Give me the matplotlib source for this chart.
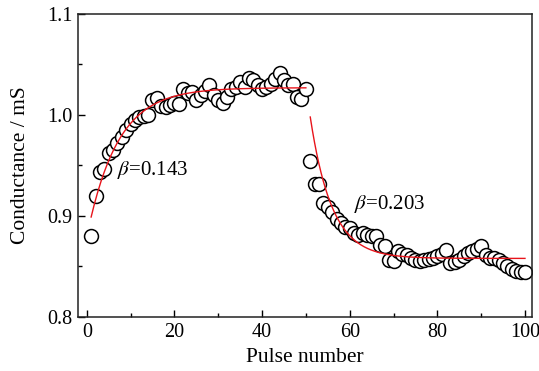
import numpy as np
import matplotlib
matplotlib.use("Agg")
import matplotlib.pyplot as plt

plt.rcParams['font.family'] = ['Liberation Serif', 'DejaVu Serif']
plt.rcParams['mathtext.fontset'] = 'stix'

# Potentiation (pulses 1-50)
pulses_up = list(range(1, 51))
cond_up = [0.880, 0.920, 0.944, 0.947, 0.962, 0.965, 0.972, 0.978, 0.985, 0.991,
           0.995, 0.998, 0.999, 1.000, 1.015, 1.017, 1.009, 1.008, 1.010, 1.012,
           1.011, 1.026, 1.022, 1.023, 1.015, 1.020, 1.024, 1.030, 1.020, 1.015,
           1.012, 1.018, 1.026, 1.028, 1.033, 1.028, 1.037, 1.035, 1.030, 1.026,
           1.028, 1.031, 1.036, 1.042, 1.035, 1.030, 1.031, 1.018, 1.016, 1.026]
# Depression (pulses 51-100)
pulses_down = list(range(51, 101))
cond_down = [0.954, 0.932, 0.932, 0.913, 0.909, 0.904, 0.897, 0.893, 0.889, 0.888,
             0.883, 0.881, 0.883, 0.881, 0.880, 0.880, 0.871, 0.870, 0.856, 0.855,
             0.865, 0.862, 0.861, 0.858, 0.856, 0.855, 0.856, 0.857, 0.858, 0.860,
             0.862, 0.866, 0.853, 0.854, 0.856, 0.860, 0.863, 0.865, 0.867, 0.870,
             0.861, 0.858, 0.858, 0.856, 0.853, 0.850, 0.848, 0.846, 0.845, 0.845]

# Fit parameters (exponential fits)
beta_up, g_sat_up, amp_up = 0.143, 1.027, 0.1477
beta_down, g_sat_down, amp_down, n0_down = 0.203, 0.858, 0.140, 51

x_ticks = [0, 20, 40, 60, 80, 100]
y_ticks = [0.8, 0.9, 1.0, 1.1]

fig = plt.figure(figsize=(5.39, 3.71), dpi=100)
ax = fig.add_axes([0.1447, 0.1456, 0.8423, 0.8167])

ax.plot(pulses_up, cond_up, 'o', ms=10, mfc='white', mec='black', mew=1.1, zorder=2)
ax.plot(pulses_down, cond_down, 'o', ms=10, mfc='white', mec='black', mew=1.1, zorder=2)

n1 = np.linspace(1, 50, 200)
ax.plot(n1, g_sat_up - amp_up * np.exp(-beta_up * n1), color='#e8141b', lw=1.0, zorder=3)
n2 = np.linspace(51, 100, 200)
ax.plot(n2, g_sat_down + amp_down * np.exp(-beta_down * (n2 - n0_down)), color='#e8141b', lw=1.0, zorder=3)

ax.text(7.0, 0.946, r'$\beta$=0.143', fontsize=15, va='center', ha='left')
ax.text(61.0, 0.912, r'$\beta$=0.203', fontsize=15, va='center', ha='left')

ax.set_xlim(-2, 101.6)
ax.set_ylim(0.8, 1.1)
ax.set_xticks(x_ticks)
ax.set_yticks(y_ticks)
ax.set_xticklabels([str(t) for t in x_ticks])
ax.set_yticklabels(['0.8', '0.9', '1.0', '1.1'])
ax.set_xticks([10, 30, 50, 70, 90], minor=True)
ax.set_yticks([0.85, 0.95, 1.05], minor=True)
ax.tick_params(which='major', direction='in', length=5, width=1, labelsize=14.5, pad=4,
               top=False, right=False)
ax.tick_params(which='minor', direction='in', length=3, width=1, top=False, right=False)
for s in ax.spines.values():
    s.set_linewidth(1.1)
    s.set_color('#222222')

ax.set_xlabel('Pulse number', fontsize=15.5, labelpad=5)
ax.set_ylabel('Conductance / mS', fontsize=15.5, labelpad=12)

fig.savefig('out.png', dpi=100)
